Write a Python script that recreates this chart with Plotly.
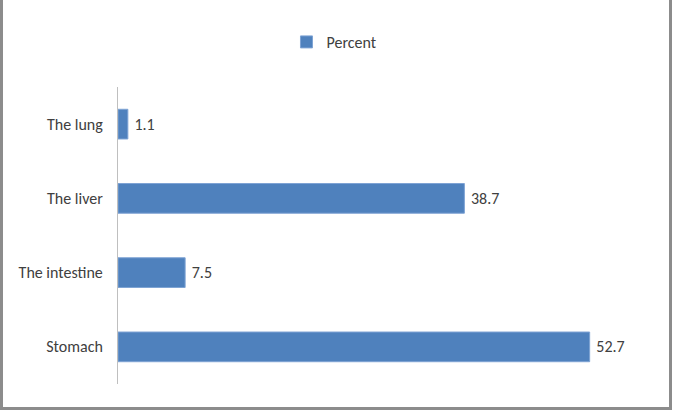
import plotly.graph_objects as go

categories = ["Stomach", "The intestine", "The liver", "The lung"]
percent = [52.7, 7.5, 38.7, 1.1]
series_name = "Percent"

FONT = "Carlito, Calibri, Roboto Condensed, sans-serif"
TXT = "#404040"

fig = go.Figure()
fig.add_trace(go.Bar(
    y=categories, x=percent, orientation="h", name=series_name,
    marker=dict(color="#4F81BD", line=dict(color="#7ea3d4", width=1)),
    width=0.4,
    text=["\u00a0" + f"{v}" for v in percent], textposition="outside",
    textfont=dict(family=FONT, size=16, color=TXT),
    cliponaxis=False, showlegend=True,
))

W, H = 673, 411
L, R, T, B = 118, 18, 87, 27
pw, ph = W - L - R, H - T - B

def px(x):
    return (x - L) / pw

def py(y):
    return (H - B - y) / ph

fig.update_layout(
    width=W, height=H,
    margin=dict(l=L, r=R, t=T, b=B),
    paper_bgcolor="white", plot_bgcolor="white",
    font=dict(family=FONT, size=16, color=TXT),
    showlegend=True,
    legend=dict(orientation="h", xref="container", yref="container",
                x=0.497, y=1 - 42 / H, xanchor="center", yanchor="middle",
                font=dict(family=FONT, size=16, color=TXT),
                itemwidth=30),
    xaxis=dict(range=[0, 60], showgrid=False, zeroline=False,
               showticklabels=False, showline=False, ticks=""),
    yaxis=dict(showgrid=False, zeroline=False, showline=True,
               linecolor="#bfbfbf", linewidth=1, ticks="",
               ticklabelstandoff=11,
               tickfont=dict(family=FONT, size=16, color=TXT)),
    shapes=[
        dict(type="rect", xref="paper", yref="paper",
             x0=px(1.5), x1=px(670.5), y0=py(408.5), y1=py(-10),
             line=dict(color="#8c8c8c", width=3), fillcolor="rgba(0,0,0,0)"),
    ],
)

fig.write_html("out.html", config={"displayModeBar": False},
               post_script="document.body.style.margin='0';")
